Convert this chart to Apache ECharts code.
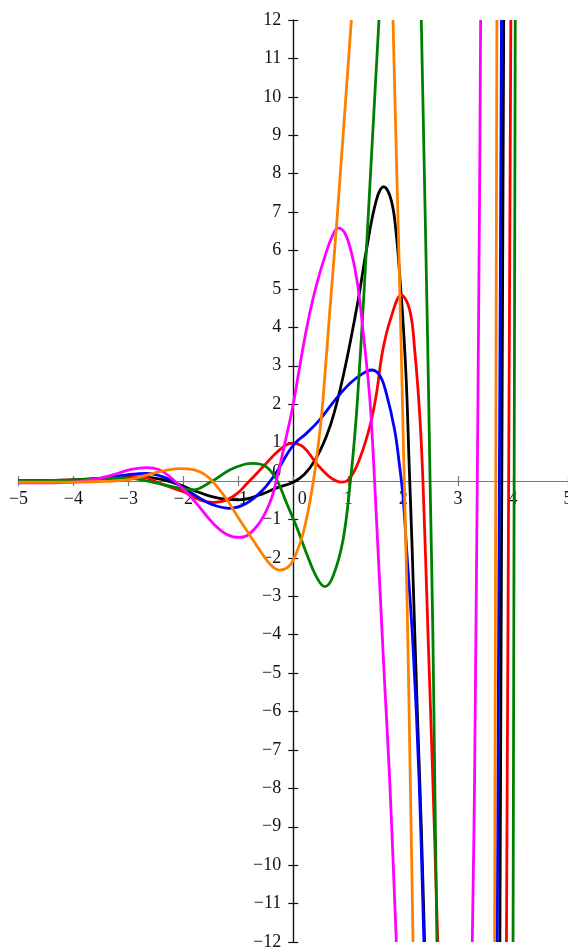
<!DOCTYPE html>
<html>
<head>
<meta charset="utf-8">
<script src="https://cdn.jsdelivr.net/npm/echarts@6/dist/echarts.min.js"></script>
</head>
<body style="margin:0">
<div id="container" style="width:568px;height:947px"></div>
<script>
// tick values
const xTicks = [-5, -4, -3, -2, -1, 0, 1, 2, 3, 4, 5];
const yTicks = [-12, -11, -10, -9, -8, -7, -6, -5, -4, -3, -2, -1, 0, 1, 2, 3, 4, 5, 6, 7, 8, 9, 10, 11, 12];

// curves, [x, y]; null = curve leaves the window
const black = [[-5, 0], [-4.5, 0.01], [-4, 0.03], [-3.5, 0.07], [-3, 0.11], [-2.7, 0.1], [-2.4, 0.04], [-2.1, -0.08],
  [-1.8, -0.25], [-1.5, -0.4], [-1.2, -0.48], [-1.0, -0.49], [-0.8, -0.45], [-0.55, -0.33], [-0.3, -0.18], [0, -0.03],
  [0.2, 0.17], [0.4, 0.55], [0.6, 1.15], [0.75, 1.8], [0.95, 3.0], [1.18, 4.7], [1.33, 6.0], [1.51, 7.3], [1.645, 7.66],
  [1.785, 7.3], [1.876, 6.4], [1.94, 5.3], [2.0, 4.1], [2.06, 2.5], [2.11, 0.4], [2.16, -1.6], [2.21, -3.9],
  [2.27, -6.5], [2.33, -9.0], [2.39, -12], null, [3.76, -12], [3.83, 12]];

const red = [[-5, 0], [-4.5, 0.01], [-4, 0.03], [-3.5, 0.06], [-3, 0.09], [-2.75, 0.1], [-2.45, -0.05], [-2.2, -0.18],
  [-2.0, -0.28], [-1.7, -0.49], [-1.46, -0.56], [-1.21, -0.49], [-1.0, -0.3], [-0.85, -0.08], [-0.55, 0.37],
  [-0.25, 0.81], [-0.03, 0.98], [0.18, 0.89], [0.42, 0.46], [0.66, 0.11], [0.88, -0.03], [1.0, 0.03], [1.15, 0.37],
  [1.36, 1.24], [1.5, 2.15], [1.63, 3.41], [1.785, 4.28], [1.967, 4.84], [2.12, 4.45], [2.21, 3.41], [2.3, 1.76],
  [2.36, 0], [2.45, -3.88], [2.54, -7.78], [2.63, -12], null, [3.88, -12], [3.96, 12]];

const blue = [[-5, 0], [-4.5, 0], [-4, 0.02], [-3.5, 0.07], [-3.03, 0.16], [-2.67, 0.2], [-2.3, 0.07], [-2.06, -0.12],
  [-1.94, -0.23], [-1.7, -0.45], [-1.46, -0.62], [-1.15, -0.71], [-0.85, -0.58], [-0.55, -0.23], [-0.3, 0.24],
  [-0.12, 0.68], [0.03, 0.98], [0.24, 1.24], [0.48, 1.59], [0.755, 2.1], [1.03, 2.54], [1.27, 2.8], [1.42, 2.89],
  [1.57, 2.76], [1.69, 2.3], [1.845, 1.33], [1.93, 0.45], [2.0, -0.45], [2.06, -1.71], [2.18, -4.31], [2.29, -7.78],
  [2.378, -12], null, [3.712, -12], [3.79, 12]];

const green = [[-5, 0], [-4.5, 0.01], [-4, 0.03], [-3.6, 0.05], [-3.1, 0.08], [-2.8, 0.04], [-2.5, -0.05], [-2.12, -0.17],
  [-1.82, -0.23], [-1.52, -0.04], [-1.15, 0.29], [-0.9, 0.43], [-0.73, 0.46], [-0.49, 0.37], [-0.3, 0.03],
  [-0.12, -0.58], [0.06, -1.19], [0.24, -1.88], [0.42, -2.49], [0.573, -2.75], [0.72, -2.49], [0.905, -1.54],
  [1.04, 0], [1.12, 1.2], [1.17, 2.15], [1.28, 4.71], [1.42, 8.36], [1.56, 12], null,
  [2.33, 12], [2.4, 7.0], [2.45, 3.3], [2.49, 0], [2.54, -3.9], [2.575, -7.8], [2.615, -12], null, [4.0, -12], [4.04, 12]];

const magenta = [[-5, -0.05], [-4.5, -0.05], [-4, -0.03], [-3.6, 0.05], [-3.28, 0.16], [-2.95, 0.3], [-2.67, 0.35],
  [-2.45, 0.3], [-2.245, 0.11], [-1.94, -0.3], [-1.75, -0.6], [-1.46, -1.1], [-1.2, -1.4], [-0.97, -1.47],
  [-0.67, -1.19], [-0.43, -0.58], [-0.31, 0], [-0.15, 1.0], [0, 2.0], [0.12, 3.0], [0.24, 3.95], [0.36, 4.75],
  [0.48, 5.4], [0.6, 5.95], [0.69, 6.3], [0.815, 6.58], [0.94, 6.45], [1.06, 5.93], [1.15, 5.3], [1.21, 4.7],
  [1.27, 3.9], [1.33, 3.1], [1.39, 2.2], [1.44, 1.1], [1.48, 0], [1.57, -2.58], [1.66, -5.18], [1.755, -7.78],
  [1.876, -12], null, [3.258, -12], [3.3, -7.78], [3.39, 7.3], [3.41, 12]];

const orange = [[-5, -0.03], [-4.5, -0.03], [-4, -0.03], [-3.64, -0.02], [-3.03, 0.03], [-2.55, 0.2], [-2.3, 0.28],
  [-2.06, 0.32], [-1.7, 0.24], [-1.34, -0.23], [-0.97, -1.02], [-0.61, -1.8], [-0.4, -2.2], [-0.245, -2.32],
  [-0.1, -2.25], [0, -2.06], [0.18, -1.36], [0.36, -0.06], [0.48, 1.24], [0.54, 2.1], [0.664, 4.4], [0.785, 6.6],
  [0.905, 8.96], [1.058, 12], null, [1.815, 12], [1.876, 8.5], [1.93, 5.5], [1.98, 2.5], [2.02, 0], [2.07, -3],
  [2.13, -7.8], [2.18, -12], null, [3.664, -12], [3.706, 12]];

const curves = [
  { name: 'black', color: '#000000', data: black },
  { name: 'red', color: '#ff0000', data: red },
  { name: 'blue', color: '#0000ff', data: blue },
  { name: 'green', color: '#008000', data: green },
  { name: 'magenta', color: '#ff00ff', data: magenta },
  { name: 'orange', color: '#ff8000', data: orange }
];

let chart = echarts.init(document.getElementById('container'));

const FONT = 'Liberation Serif';
const GRID = { left: 18.5, right: 0, top: 20, bottom: 5 };
const W = 568 - GRID.left - GRID.right;
const H = 947 - GRID.top - GRID.bottom;
const xMin = xTicks[0], xMax = xTicks[xTicks.length - 1];
const yMin = yTicks[0], yMax = yTicks[yTicks.length - 1];
// shift the axes from the grid edge to the zero lines
const xOffset = -H * (0 - yMin) / (yMax - yMin);
const yOffset = -W * (0 - xMin) / (xMax - xMin);

function fmt(v) {
  return v < 0 ? '\u2212' + Math.abs(v) : String(v);
}

function xAxisDef(inner) {
  return {
    type: 'value', position: 'bottom', offset: xOffset,
    min: xMin, max: xMax, interval: 1,
    axisLine: { onZero: false, lineStyle: { color: '#777', width: 1.2 } },
    axisTick: { inside: inner, length: 5, lineStyle: { color: '#777', width: 1.2 } },
    axisLabel: {
      show: !inner, margin: 9, fontSize: 18, fontFamily: FONT, color: '#111',
      showMinLabel: true, showMaxLabel: true,
      formatter: function (v) { return v === 0 ? '{z|0}' : fmt(v); },
      rich: { z: { fontSize: 18, fontFamily: FONT, color: '#111', padding: [0, 0, 0, 18] } }
    },
    splitLine: { show: false }
  };
}

function yAxisDef(inner) {
  return {
    type: 'value', position: 'left', offset: yOffset,
    min: yMin, max: yMax, interval: 1,
    axisLine: { onZero: false, lineStyle: { color: '#111', width: 1.2 } },
    axisTick: { inside: inner, length: 5, lineStyle: { color: '#111', width: 1.2 } },
    axisLabel: {
      show: !inner, margin: 12, fontSize: 18, fontFamily: FONT, color: '#111',
      showMinLabel: true, showMaxLabel: true,
      formatter: function (v) { return v === 0 ? '{z|0}' : fmt(v); },
      rich: { z: { fontSize: 18, fontFamily: FONT, color: '#111', padding: [0, 0, 18, 0] } }
    },
    splitLine: { show: false }
  };
}

let option = {
  animation: false,
  backgroundColor: '#ffffff',
  grid: { left: GRID.left, right: GRID.right, top: GRID.top, bottom: GRID.bottom, containLabel: false, outerBoundsMode: 'none' },
  xAxis: [xAxisDef(false), xAxisDef(true)],
  yAxis: [yAxisDef(false), yAxisDef(true)],
  series: curves.map(function (c) {
    return {
      type: 'line', name: c.name,
      xAxisIndex: 0, yAxisIndex: 0,
      data: c.data.map(function (p) { return p ? p : ['-', '-']; }),
      showSymbol: false, symbol: 'none',
      smooth: 0.4, connectNulls: false, clip: true,
      lineStyle: { color: c.color, width: 2.8 },
      itemStyle: { color: c.color }
    };
  })
};

chart.setOption(option);
</script>
</body>
</html>
